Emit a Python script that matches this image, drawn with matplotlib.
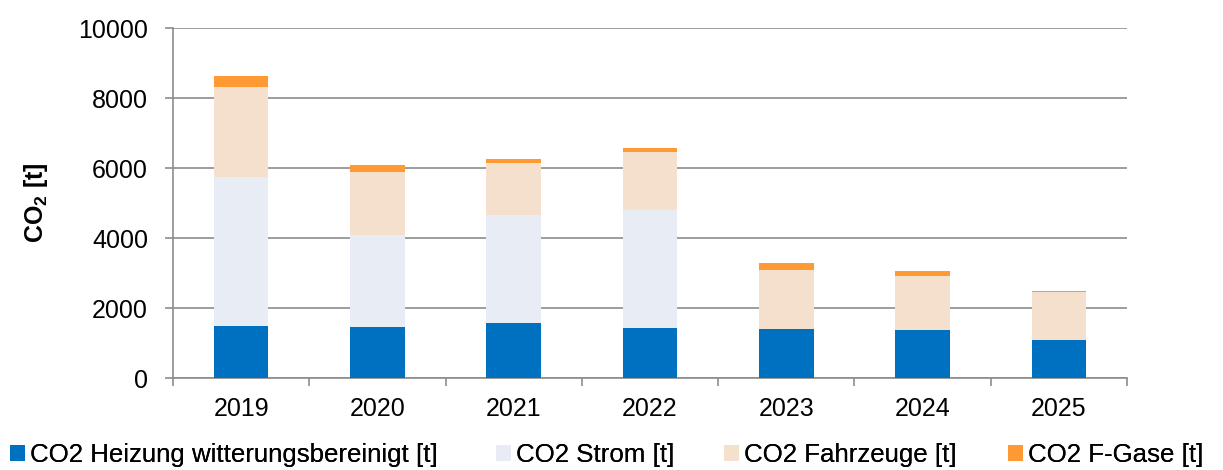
import numpy as np
import matplotlib.pyplot as plt

plt.rcParams['font.family'] = ['Liberation Sans', 'DejaVu Sans']
plt.rcParams['mathtext.fontset'] = 'custom'
plt.rcParams['mathtext.rm'] = 'Liberation Sans'
plt.rcParams['mathtext.bf'] = 'Liberation Sans:bold'

# Jahreswerte CO2 in Tonnen
years = ['2019', '2020', '2021', '2022', '2023', '2024', '2025']
heizung = [1500, 1450, 1570, 1420, 1390, 1360, 1090]
strom = [4250, 2645, 3100, 3370, 0, 0, 0]
fahrzeuge = [2555, 1780, 1465, 1680, 1685, 1545, 1360]
f_gase = [315, 200, 125, 115, 210, 160, 45]

series = [
    ('CO2 Heizung witterungsbereinigt [t]', heizung, '#0070C0'),
    ('CO2 Strom [t]', strom, '#E8ECF5'),
    ('CO2 Fahrzeuge [t]', fahrzeuge, '#F4E0CC'),
    ('CO2 F-Gase [t]', f_gase, '#FF9933'),
]
legend_x = [10, 496, 724, 1008]  # linke Kante der Legendeneinträge in Pixeln

W, H = 1223, 470
fig = plt.figure(figsize=(W / 100, H / 100), dpi=100)
ax = fig.add_axes([173 / W, 92 / H, 954 / W, 350 / H])

x = np.arange(len(years))
bottom = np.zeros(len(years))
bars = []
for label, vals, color in series:
    vals = np.array(vals, dtype=float)
    b = ax.bar(x, vals, width=0.4, bottom=bottom, color=color, label=label, zorder=3)
    bars.append(b)
    bottom += vals

ax.set_ylim(0, 10000)
ax.set_yticks(np.arange(0, 10001, 2000))
ax.set_xlim(-0.5, len(years) - 0.5)
ax.set_xticks(x)
ax.set_xticklabels(years)
ax.set_xticks(np.arange(-0.5, len(years), 1), minor=True)

gray = '#8C8C8C'
ax.yaxis.grid(True, color=gray, linewidth=1.2, zorder=0)
for s in ['top', 'right']:
    ax.spines[s].set_visible(False)
for s in ['left', 'bottom']:
    ax.spines[s].set_color(gray)
    ax.spines[s].set_linewidth(1.2)

ax.tick_params(axis='x', which='major', length=0, pad=14, labelsize=18)
ax.tick_params(axis='x', which='minor', length=6, color=gray, width=1.2)
ax.tick_params(axis='y', length=6, color=gray, width=1.2, pad=12, labelsize=18)

ax.set_ylabel(r'$\mathbf{CO_2}$ [t]', fontsize=18, fontweight='bold', labelpad=20)

# jeder Legendeneintrag einzeln positioniert
for (label, _, _), b, lx in zip(series, bars, legend_x):
    leg = fig.legend([b], [label], loc='lower left', bbox_to_anchor=(lx / W, 0.006),
                     frameon=False, fontsize=18.6, handlelength=0.58, handleheight=0.58,
                     handletextpad=0.2, borderpad=0, borderaxespad=0)
    fig.add_artist(leg)

fig.savefig('out.png', dpi=100)
